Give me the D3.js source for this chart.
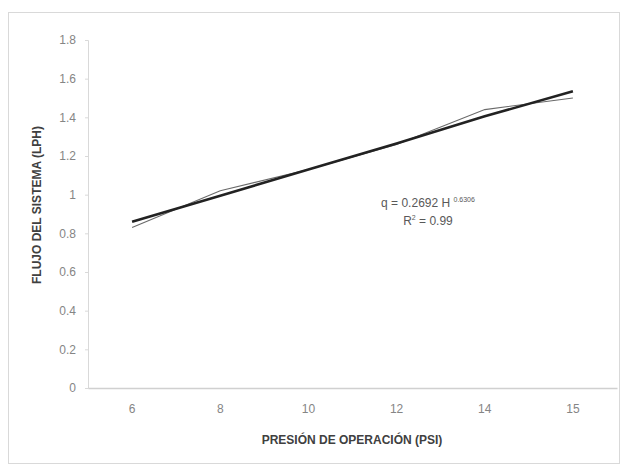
<!DOCTYPE html>
<html>
<head>
<meta charset="utf-8">
<script src="https://cdn.jsdelivr.net/npm/d3@7"></script>
<style>
  html, body { margin: 0; padding: 0; background: #fff; overflow: hidden; }
  svg { display: block; font-family: 'Liberation Sans', Arial, sans-serif; }
</style>
</head>
<body>
<div id="chart"></div>
<script>
const categories = ['6', '8', '10', '12', '14', '15']
const measured = [0.83, 1.02, 1.13, 1.26, 1.44, 1.50]
const trend = [0.86, 0.995, 1.13, 1.265, 1.405, 1.535]
const yTicks = [0, 0.2, 0.4, 0.6, 0.8, 1, 1.2, 1.4, 1.6, 1.8]

const width = 624
const height = 464
const margin = { top: 40, right: 7, bottom: 76, left: 88 }
const innerWidth = width - margin.left - margin.right
const innerHeight = height - margin.top - margin.bottom

const svg = d3.select('#chart').append('svg')
  .attr('width', width)
  .attr('height', height)

// outer frame
svg.append('rect')
  .attr('x', 8.5).attr('y', 12.5)
  .attr('width', 611).attr('height', 451)
  .attr('fill', '#fff')
  .attr('stroke', '#d9d9d9')

const g = svg.append('g')
  .attr('transform', `translate(${margin.left} ${margin.top})`)

// SCALES
const x = d3.scaleBand()
  .domain(categories)
  .range([0, innerWidth])

const y = d3.scaleLinear()
  .domain([0, 1.8])
  .range([innerHeight, 0])

// Y-AXIS
const yAxis = g.append('g')
  .call(d3.axisLeft(y).tickValues(yTicks).tickFormat(d => String(d)).tickSize(3).tickPadding(9))
yAxis.select('.domain').attr('stroke', '#d9d9d9')
yAxis.selectAll('.tick line').attr('stroke', '#d9d9d9')
yAxis.selectAll('.tick text').attr('fill', '#858585').attr('font-size', 12)

// X-AXIS
const xAxis = g.append('g')
  .attr('transform', `translate(0 ${innerHeight})`)
  .call(d3.axisBottom(x).tickSize(0).tickPadding(16))
xAxis.select('.domain').attr('stroke', '#d0d0d0').attr('stroke-width', 1.5)
xAxis.selectAll('.tick text').attr('fill', '#858585').attr('font-size', 12)

// LINES
const line = d3.line()
  .x((d, i) => x(categories[i]) + x.bandwidth() / 2)
  .y(d => y(d))

g.append('path')
  .datum(measured)
  .attr('fill', 'none')
  .attr('stroke', '#6a6a6a')
  .attr('stroke-width', 1.1)
  .attr('d', line)

g.append('path')
  .datum(trend)
  .attr('fill', 'none')
  .attr('stroke', '#222')
  .attr('stroke-width', 2.6)
  .attr('d', line)

// EQUATION
const eq = svg.append('text')
  .attr('x', 428).attr('y', 207)
  .attr('text-anchor', 'middle')
  .attr('fill', '#595959')
  .attr('font-size', 12)
eq.append('tspan').text('q = 0.2692 H ')
eq.append('tspan').attr('font-size', 7).attr('dy', -5).text('0.6306')

const r2 = svg.append('text')
  .attr('x', 428).attr('y', 225)
  .attr('text-anchor', 'middle')
  .attr('fill', '#595959')
  .attr('font-size', 12)
r2.append('tspan').text('R')
r2.append('tspan').attr('font-size', 7).attr('dy', -5).text('2')
r2.append('tspan').attr('dy', 5).text(' = 0.99')

// AXIS TITLES
svg.append('text')
  .attr('transform', 'translate(41 205) rotate(-90)')
  .attr('text-anchor', 'middle')
  .attr('fill', '#404040')
  .attr('font-size', 12)
  .attr('font-weight', 'bold')
  .text('FLUJO DEL SISTEMA (LPH)')

svg.append('text')
  .attr('x', 352).attr('y', 444)
  .attr('text-anchor', 'middle')
  .attr('fill', '#404040')
  .attr('font-size', 12)
  .attr('font-weight', 'bold')
  .text('PRESIÓN DE OPERACIÓN (PSI)')
</script>
</body>
</html>
